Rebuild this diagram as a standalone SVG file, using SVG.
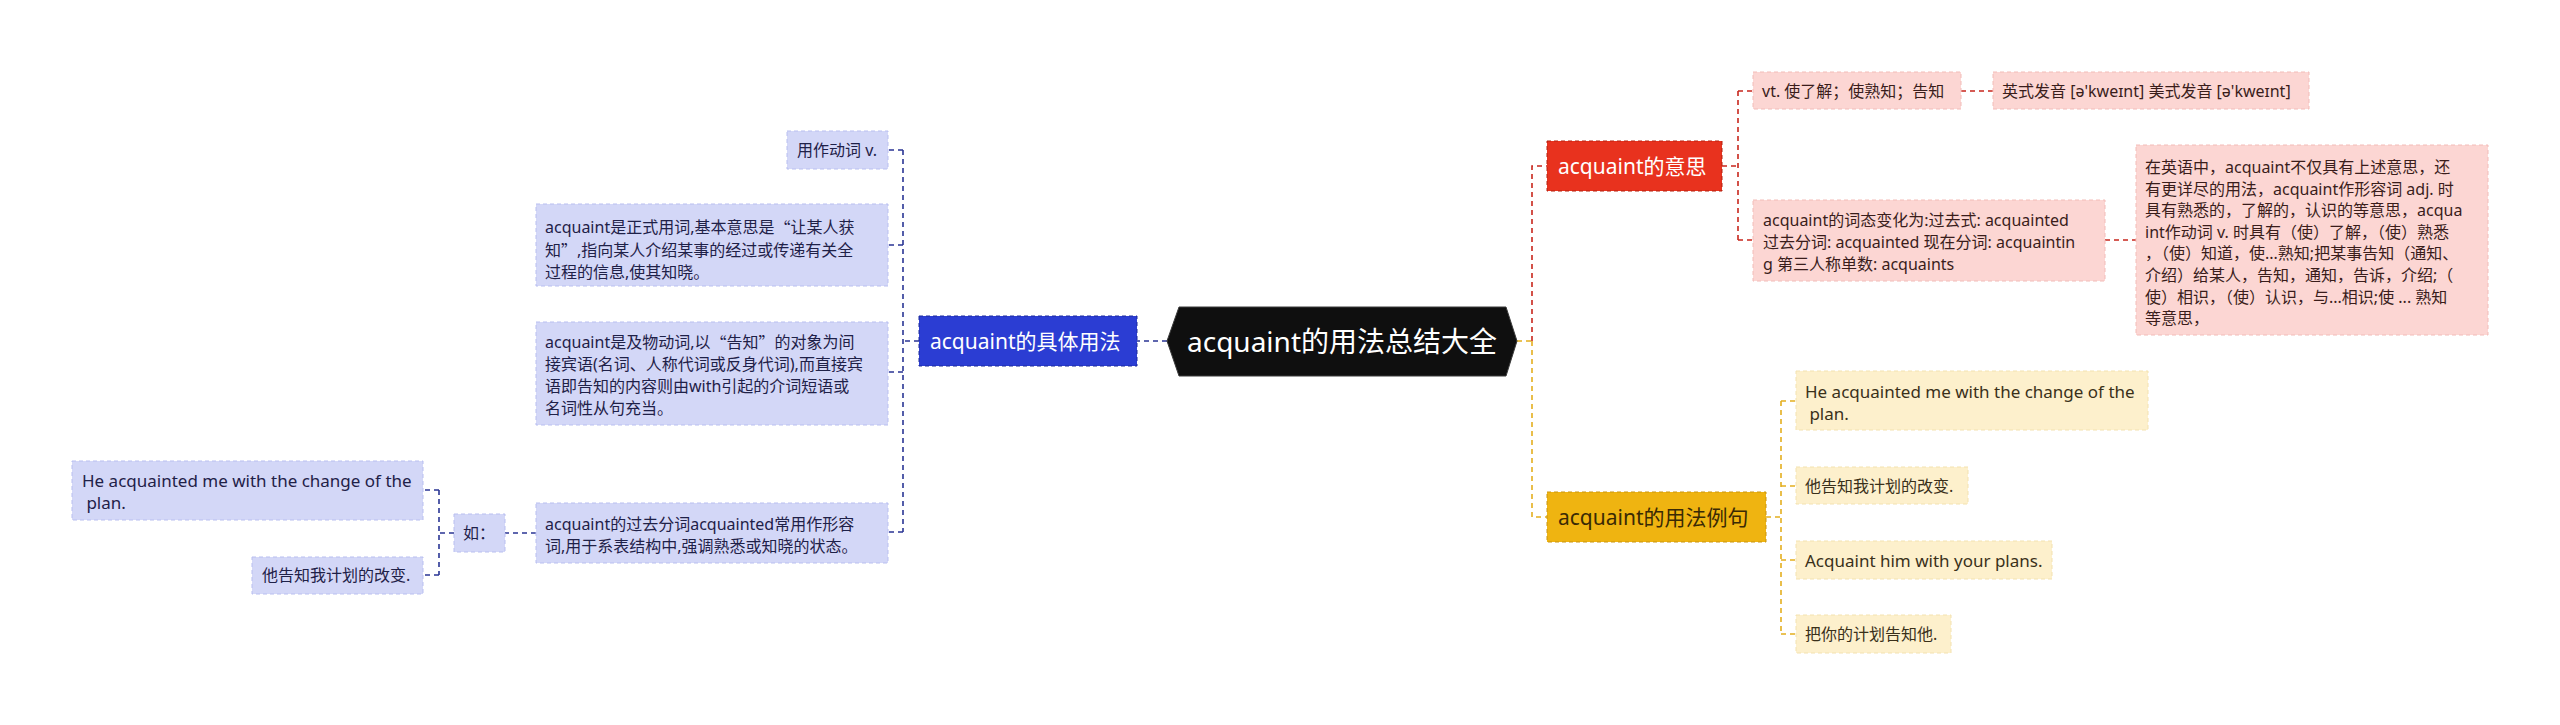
<svg xmlns="http://www.w3.org/2000/svg" width="2560" height="725" viewBox="0 0 2560 725">
<style>
text{font-family:"Noto Sans","Noto Sans CJK SC",sans-serif;dominant-baseline:central;white-space:pre}
.t16{font-size:16px}
.t17{font-size:17px}
.t20{font-size:21px}
.q{font-family:"Noto Sans CJK SC",sans-serif}
.root{font-size:28px;fill:#ffffff}
.blueBox{fill:#d3d7f7;stroke:#b9bff0;stroke-width:1;stroke-dasharray:4 3}
.blueTxt{fill:#1f2148}
.pinkBox{fill:#fcd6d3;stroke:#f2bcb8;stroke-width:1;stroke-dasharray:4 3}
.pinkTxt{fill:#3a1d1b}
.yelBox{fill:#fdf0cc;stroke:#f3e2b0;stroke-width:1;stroke-dasharray:4 3}
.yelTxt{fill:#3a301a}
.conn path{fill:none;stroke-width:1.6;stroke-dasharray:5 4}
.cb{stroke:#2a3594}
.cr{stroke:#c8261c}
.co{stroke:#e4ae1e}
</style>
<rect width="2560" height="725" fill="#ffffff"/>

<g id="connectors" class="conn">
  <path class="cb" d="M1167,341 H1137"/>
  <path class="cb" d="M919,341 H903"/>
  <path class="cb" d="M903,150 V532"/>
  <path class="cb" d="M903,150 H888 M903,245 H888 M903,372 H888 M903,532 H888"/>
  <path class="cb" d="M536,533 H505"/>
  <path class="cb" d="M454,533 H439"/>
  <path class="cb" d="M439,490 V575"/>
  <path class="cb" d="M439,490 H423 M439,575 H423"/>
  <path class="co" d="M1517,341 H1532"/>
  <path class="cr" d="M1532,341 V166 H1547"/>
  <path class="co" d="M1532,341 V517 H1547"/>
  <path class="cr" d="M1722,166 H1738"/>
  <path class="cr" d="M1738,91 V240"/>
  <path class="cr" d="M1738,91 H1753 M1738,240 H1753"/>
  <path class="cr" d="M1961,91 H1993"/>
  <path class="cr" d="M2105,240 H2136"/>
  <path class="co" d="M1766,517 H1781"/>
  <path class="co" d="M1781,401 V634"/>
  <path class="co" d="M1781,401 H1796 M1781,486 H1796 M1781,560 H1796 M1781,634 H1796"/>
</g>

<g id="root">
  <polygon points="1167,341 1179,307 1506,307 1517,341 1506,376 1179,376" fill="#0f0f0f" stroke="#3a3a3a" stroke-width="1"/>
  <text class="root" x="1342" y="341" text-anchor="middle">acquaint的用法总结大全</text>
</g>

<g id="usage">
  <rect x="919" y="316" width="218" height="50" fill="#2b3dd3" stroke="#1c2a9c" stroke-width="1" stroke-dasharray="4 3"/>
  <text class="t20" x="930" y="341" fill="#ffffff">acquaint的具体用法</text>
</g>

<g id="usage-verb">
  <rect class="blueBox" x="787" y="131" width="101" height="38"/>
  <text class="t16 blueTxt" x="797" y="150">用作动词 v.</text>
</g>

<g id="usage-formal">
  <rect class="blueBox" x="536" y="204" width="352" height="82"/>
  <text class="t16 blueTxt" x="545" y="227">acquaint是正式用词,基本意思是<tspan class="q">“</tspan>让某人获</text>
  <text class="t16 blueTxt" x="545" y="250">知<tspan class="q">”</tspan>,指向某人介绍某事的经过或传递有关全</text>
  <text class="t16 blueTxt" x="545" y="272">过程的信息,使其知晓。</text>
</g>

<g id="usage-transitive">
  <rect class="blueBox" x="536" y="322" width="352" height="103"/>
  <text class="t16 blueTxt" x="545" y="342">acquaint是及物动词,以<tspan class="q">“</tspan>告知<tspan class="q">”</tspan>的对象为间</text>
  <text class="t16 blueTxt" x="545" y="364">接宾语(名词、人称代词或反身代词),而直接宾</text>
  <text class="t16 blueTxt" x="545" y="386">语即告知的内容则由with引起的介词短语或</text>
  <text class="t16 blueTxt" x="545" y="408">名词性从句充当。</text>
</g>

<g id="usage-participle">
  <rect class="blueBox" x="536" y="503" width="352" height="60"/>
  <text class="t16 blueTxt" x="545" y="524">acquaint的过去分词acquainted常用作形容</text>
  <text class="t16 blueTxt" x="545" y="546">词,用于系表结构中,强调熟悉或知晓的状态。</text>
</g>

<g id="usage-eg">
  <rect class="blueBox" x="454" y="514" width="51" height="38"/>
  <text class="t16 blueTxt" x="463" y="533">如：</text>
</g>

<g id="usage-eg-en">
  <rect class="blueBox" x="72" y="461" width="351" height="59"/>
  <text class="t17 blueTxt" x="82" y="480">He acquainted me with the change of the</text>
  <text class="t17 blueTxt" x="82" y="502"> plan.</text>
</g>

<g id="usage-eg-zh">
  <rect class="blueBox" x="252" y="557" width="171" height="37"/>
  <text class="t16 blueTxt" x="262" y="575">他告知我计划的改变.</text>
</g>

<g id="meaning">
  <rect x="1547" y="141" width="175" height="50" fill="#e8321e" stroke="#b5200f" stroke-width="1" stroke-dasharray="4 3"/>
  <text class="t20" x="1558" y="166" fill="#ffffff">acquaint的意思</text>
</g>

<g id="meaning-vt">
  <rect class="pinkBox" x="1753" y="72" width="208" height="37"/>
  <text class="t16 pinkTxt" x="1762" y="91">vt. 使了解；使熟知；告知</text>
</g>

<g id="meaning-pron">
  <rect class="pinkBox" x="1993" y="72" width="316" height="37"/>
  <text class="t16 pinkTxt" x="2002" y="91">英式发音 [ə'kweɪnt] 美式发音 [ə'kweɪnt]</text>
</g>

<g id="meaning-forms">
  <rect class="pinkBox" x="1753" y="200" width="352" height="81"/>
  <text class="t16 pinkTxt" x="1763" y="220">acquaint的词态变化为:过去式: acquainted</text>
  <text class="t16 pinkTxt" x="1763" y="242">过去分词: acquainted 现在分词: acquaintin</text>
  <text class="t16 pinkTxt" x="1763" y="264">g 第三人称单数: acquaints</text>
</g>

<g id="meaning-detail">
  <rect class="pinkBox" x="2136" y="145" width="352" height="190"/>
  <text class="t16 pinkTxt" x="2145" y="167">在英语中，acquaint不仅具有上述意思，还</text>
  <text class="t16 pinkTxt" x="2145" y="188.6">有更详尽的用法，acquaint作形容词 adj. 时</text>
  <text class="t16 pinkTxt" x="2145" y="210.2">具有熟悉的，了解的，认识的等意思，acqua</text>
  <text class="t16 pinkTxt" x="2145" y="231.8">int作动词 v. 时具有（使）了解，（使）熟悉</text>
  <text class="t16 pinkTxt" x="2145" y="253.4">，（使）知道，使...熟知;把某事告知（通知、</text>
  <text class="t16 pinkTxt" x="2145" y="275">介绍）给某人，告知，通知，告诉，介绍;（</text>
  <text class="t16 pinkTxt" x="2145" y="296.6">使）相识，（使）认识，与...相识;使 ... 熟知</text>
  <text class="t16 pinkTxt" x="2145" y="318.2">等意思，</text>
</g>

<g id="examples">
  <rect x="1547" y="492" width="219" height="50" fill="#efb411" stroke="#c99510" stroke-width="1" stroke-dasharray="4 3"/>
  <text class="t20" x="1558" y="517" fill="#3a2a05">acquaint的用法例句</text>
</g>

<g id="ex-1">
  <rect class="yelBox" x="1796" y="371" width="352" height="59"/>
  <text class="t17 yelTxt" x="1805" y="391">He acquainted me with the change of the</text>
  <text class="t17 yelTxt" x="1805" y="413"> plan.</text>
</g>

<g id="ex-2">
  <rect class="yelBox" x="1796" y="467" width="172" height="37"/>
  <text class="t16 yelTxt" x="1805" y="486">他告知我计划的改变.</text>
</g>

<g id="ex-3">
  <rect class="yelBox" x="1796" y="541" width="256" height="38"/>
  <text class="t17 yelTxt" x="1805" y="560">Acquaint him with your plans.</text>
</g>

<g id="ex-4">
  <rect class="yelBox" x="1796" y="615" width="155" height="38"/>
  <text class="t16 yelTxt" x="1805" y="634">把你的计划告知他.</text>
</g>
</svg>
